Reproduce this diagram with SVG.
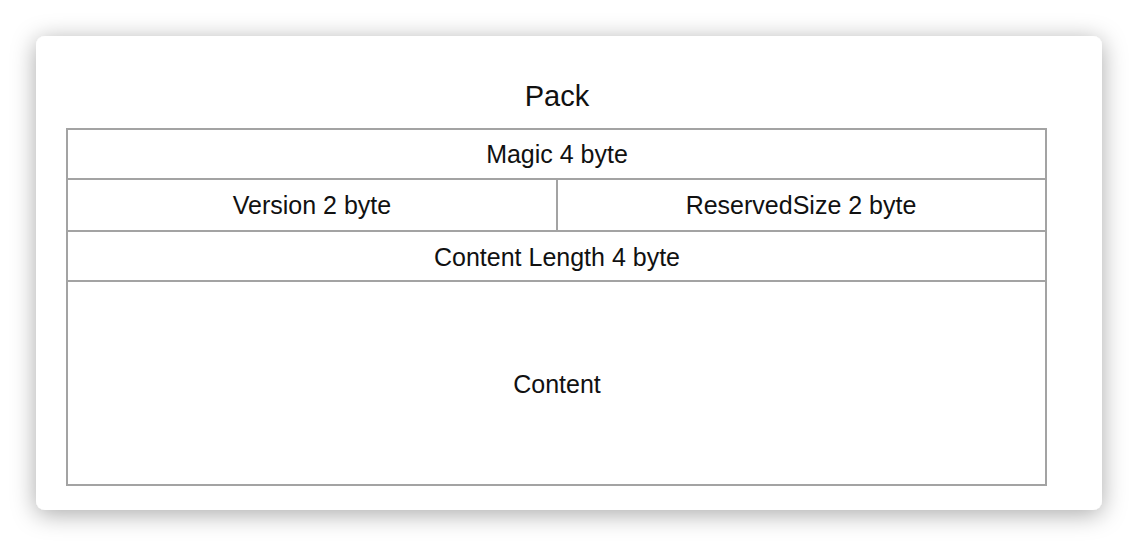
<svg xmlns="http://www.w3.org/2000/svg" width="1138" height="546" viewBox="0 0 1138 546">
  <defs>
    <filter id="cardShadow" x="-10%" y="-20%" width="120%" height="140%">
      <feDropShadow dx="0" dy="4" stdDeviation="12" flood-color="#000" flood-opacity="0.34"/>
    </filter>
    <style>
      .cell { fill: #ffffff; stroke: #a3a3a3; stroke-width: 2; }
      .label { font-family: "Liberation Sans", Arial, Helvetica, sans-serif; font-size: 25px; fill: #111111; text-anchor: middle; }
      .title { font-family: "Liberation Sans", Arial, Helvetica, sans-serif; font-size: 29px; fill: #111111; text-anchor: middle; }
    </style>
  </defs>

  <rect width="1138" height="546" fill="#ffffff"/>

  <!-- card -->
  <rect x="36" y="36" width="1066" height="474" rx="9" ry="9" fill="#ffffff" filter="url(#cardShadow)"/>

  <text class="title" x="557" y="106">Pack</text>

  <g id="magic">
    <rect class="cell" x="67" y="129" width="979" height="50"/>
    <text class="label" x="557" y="163">Magic 4 byte</text>
  </g>
  <g id="version">
    <rect class="cell" x="67" y="179" width="490" height="52"/>
    <text class="label" x="312" y="214">Version 2 byte</text>
  </g>
  <g id="reserved-size">
    <rect class="cell" x="557" y="179" width="489" height="52"/>
    <text class="label" x="801" y="214">ReservedSize 2 byte</text>
  </g>
  <g id="content-length">
    <rect class="cell" x="67" y="231" width="979" height="50"/>
    <text class="label" x="557" y="266">Content Length 4 byte</text>
  </g>
  <g id="content">
    <rect class="cell" x="67" y="281" width="979" height="204"/>
    <text class="label" x="557" y="393">Content</text>
  </g>

  <g id="connectors"/>
</svg>
